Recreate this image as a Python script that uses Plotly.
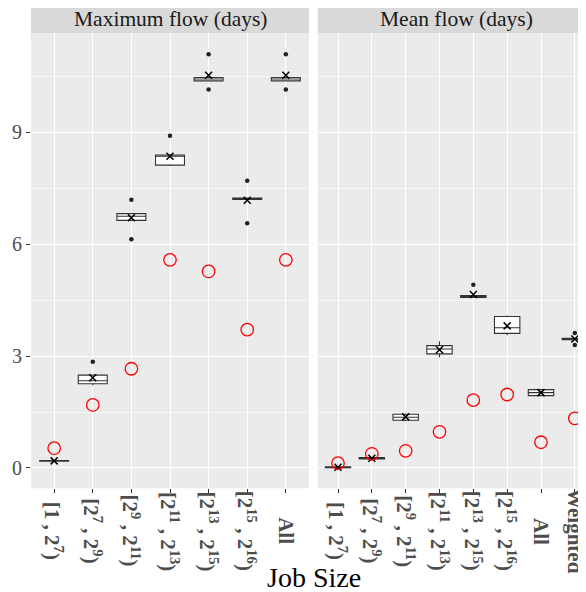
import plotly.graph_objects as go

# The page body has an 8px default margin, so the figure is sized to fill the rest of the window.
OFF = 8
W, H = 586 - OFF, 592 - OFF

# ---------------- data ----------------
max_cats = ["[1 , 2<sup>7</sup>)", "[2<sup>7</sup> , 2<sup>9</sup>)",
            "[2<sup>9</sup> , 2<sup>11</sup>)", "[2<sup>11</sup> , 2<sup>13</sup>)",
            "[2<sup>13</sup> , 2<sup>15</sup>)", "[2<sup>15</sup> , 2<sup>16</sup>)",
            "All"]
mean_cats = max_cats + ["Weighted"]

max_q1 = [0.18, 2.26, 6.64, 8.12, 10.38, 7.20, 10.38]
max_med = [0.19, 2.34, 6.75, 8.36, 10.43, 7.22, 10.43]
max_q3 = [0.20, 2.49, 6.82, 8.39, 10.47, 7.24, 10.47]
max_lo = [0.18, 2.22, 6.62, 8.10, 10.36, 7.20, 10.36]
max_hi = [0.20, 2.49, 6.84, 8.41, 10.49, 7.24, 10.49]
max_mean = [0.19, 2.42, 6.71, 8.36, 10.53, 7.18, 10.53]
max_out_x = [max_cats[1], max_cats[2], max_cats[2], max_cats[3], max_cats[4], max_cats[4],
             max_cats[5], max_cats[5], max_cats[6], max_cats[6]]
max_out_y = [2.85, 7.19, 6.13, 8.91, 11.09, 10.15, 7.70, 6.56, 11.09, 10.15]
max_ref = [0.53, 1.69, 2.66, 5.58, 5.27, 3.71, 5.58]

mean_q1 = [0.01, 0.24, 1.28, 3.06, 4.57, 3.61, 1.94, 3.44]
mean_med = [0.02, 0.26, 1.36, 3.19, 4.59, 3.76, 2.02, 3.46]
mean_q3 = [0.03, 0.28, 1.44, 3.28, 4.62, 4.06, 2.10, 3.48]
mean_lo = [0.01, 0.24, 1.26, 2.97, 4.57, 3.56, 1.93, 3.44]
mean_hi = [0.03, 0.28, 1.46, 3.40, 4.62, 4.09, 2.10, 3.48]
mean_mean = [0.02, 0.26, 1.37, 3.17, 4.65, 3.81, 2.02, 3.46]
mean_out_x = [mean_cats[4], mean_cats[7], mean_cats[7]]
mean_out_y = [4.91, 3.62, 3.30]
mean_ref = [0.13, 0.38, 0.46, 0.97, 1.82, 1.97, 0.69, 1.33]

strip_titles = ["Maximum flow (days)", "Mean flow (days)"]
y_ticks = [0, 3, 6, 9]
x_title = "Job Size"

# ---------------- styling ----------------
FONT = "Liberation Serif"
PANEL_BG = "#EBEBEB"
STRIP_BG = "#D9D9D9"
LINE = "#333333"
TICKTXT = "#4D4D4D"

def px_x(p):
    return (p - OFF) / W

def px_y(p):
    return 1 - (p - OFF) / H

left_dom = [px_x(31), px_x(309)]
right_dom = [px_x(317.7), 1.0]
y_dom = [px_y(488.3), px_y(33.3)]

fig = go.Figure()

def add_panel(xa, ya, cats, q1, med, q3, lo, hi, mean, ox, oy, ref):
    fig.add_trace(go.Box(x=cats, q1=q1, median=med, q3=q3, lowerfence=lo, upperfence=hi,
                         xaxis=xa, yaxis=ya, width=0.75, whiskerwidth=0,
                         fillcolor="white", line=dict(color=LINE, width=1.1),
                         boxpoints=False, showlegend=False, hoverinfo="skip"))
    fig.add_trace(go.Scatter(x=ox, y=oy, xaxis=xa, yaxis=ya, mode="markers",
                             marker=dict(color="#222222", size=4.5), showlegend=False))
    fig.add_trace(go.Scatter(x=cats, y=mean, xaxis=xa, yaxis=ya, mode="markers",
                             marker=dict(symbol="x-thin", color="black", size=7,
                                         line=dict(color="black", width=1.5)),
                             showlegend=False))
    fig.add_trace(go.Scatter(x=cats, y=ref, xaxis=xa, yaxis=ya, mode="markers",
                             marker=dict(symbol="circle-open", color="#FF0000", size=12.5,
                                         line=dict(color="#FF0000", width=1.3)),
                             showlegend=False))

add_panel("x", "y", max_cats, max_q1, max_med, max_q3, max_lo, max_hi, max_mean,
          max_out_x, max_out_y, max_ref)
add_panel("x2", "y2", mean_cats, mean_q1, mean_med, mean_q3, mean_lo, mean_hi, mean_mean,
          mean_out_x, mean_out_y, mean_ref)

xcommon = dict(showgrid=True, gridcolor="white", gridwidth=1.1, zeroline=False,
               showline=False, ticks="outside", ticklen=4, tickwidth=1, tickcolor=LINE,
               showticklabels=False, automargin=False, fixedrange=True, type="category")
ycommon = dict(range=[-0.545, 11.655], domain=y_dom, tickmode="array", tickvals=y_ticks,
               showgrid=True, gridcolor="white", gridwidth=1.1, zeroline=False,
               showline=False, automargin=False,
               minor=dict(tickmode="array", tickvals=[1.5, 4.5, 7.5, 10.5], showgrid=True,
                          gridcolor="#F6F6F6", gridwidth=0.7, ticks=""))

fig.update_layout(
    width=W, height=H,
    margin=dict(l=0, r=0, t=0, b=0),
    paper_bgcolor="white", plot_bgcolor=PANEL_BG,
    showlegend=False,
    xaxis=dict(domain=left_dom, range=[-0.6, 6.6], anchor="y",
               categoryorder="array", categoryarray=max_cats, **xcommon),
    xaxis2=dict(domain=right_dom, range=[-0.6, 7.33], anchor="y2",
                categoryorder="array", categoryarray=mean_cats, **xcommon),
    yaxis=dict(anchor="x", ticks="outside", ticklen=4, tickwidth=1, tickcolor=LINE,
               tickfont=dict(family=FONT, size=20, color=TICKTXT), **ycommon),
    yaxis2=dict(anchor="x2", matches="y", showticklabels=False, ticks="", **ycommon),
)

# rotated category labels, vertically centred below each panel
for xref, cats in (("x", max_cats), ("x2", mean_cats)):
    for c in cats:
        fig.add_annotation(xref=xref, yref="paper", x=c, y=px_y(531),
                           text="<b>" + c + "</b>", textangle=90, showarrow=False,
                           xanchor="center", yanchor="middle",
                           font=dict(family=FONT, size=21, color=TICKTXT))

# strips
strips = [(31, 309, 170), (317.7, 586, 456.3)]
for (x0, x1, xc), title in zip(strips, strip_titles):
    fig.add_shape(type="rect", xref="paper", yref="paper",
                  x0=px_x(x0), x1=px_x(x1), y0=px_y(33.3), y1=px_y(6),
                  fillcolor=STRIP_BG, line=dict(width=0), layer="below")
    fig.add_annotation(xref="paper", yref="paper", x=px_x(xc), y=px_y(19.5),
                       text=title, showarrow=False, xanchor="center", yanchor="middle",
                       font=dict(family=FONT, size=21.5, color="#1A1A1A"))

fig.add_annotation(xref="paper", yref="paper", x=px_x(313.5), y=px_y(577),
                   text=x_title, showarrow=False, xanchor="center", yanchor="middle",
                   font=dict(family=FONT, size=28, color="black"))

fig.write_html("out.html")
